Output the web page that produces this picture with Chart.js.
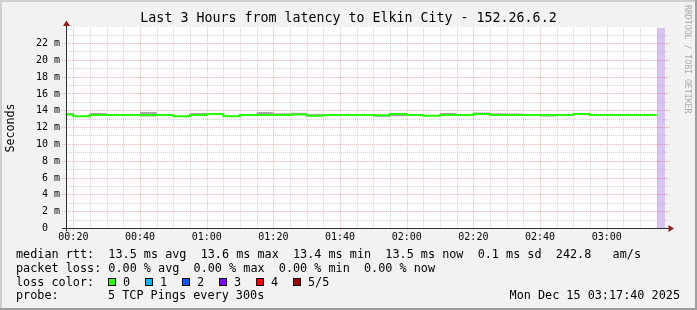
<!DOCTYPE html>
<html><head><meta charset="utf-8">
<script src="https://cdn.jsdelivr.net/npm/chart.js@4.4.1/dist/chart.umd.min.js"></script>
<style>
html,body{margin:0;padding:0;background:#f2f2f2;}
#wrap{position:relative;width:697px;height:310px;overflow:hidden;}
canvas{position:absolute;left:0;top:0;}
.t{position:absolute;font-family:'DejaVu Sans Mono',monospace;font-size:11.8px;line-height:13.7px;white-space:pre;color:#000;}
.box{position:absolute;width:6px;height:6px;border:1px solid #000;}
#mark{position:absolute;left:682.8px;top:5px;writing-mode:vertical-rl;font-family:'DejaVu Sans Mono',monospace;font-size:8.2px;line-height:10px;color:#aaaaaa;white-space:pre;}
</style></head>
<body>
<div id="wrap">
<canvas id="c" width="697" height="310"></canvas>
<div id="mark">RRDTOOL / TOBI OETIKER</div>
</div>
<script>
// ---------- data ----------
const times = ['00:15','00:20','00:25','00:30','00:35','00:40','00:45','00:50','00:55',
  '01:00','01:05','01:10','01:15','01:20','01:25','01:30','01:35','01:40','01:45','01:50','01:55',
  '02:00','02:05','02:10','02:15','02:20','02:25','02:30','02:35','02:40','02:45','02:50','02:55',
  '03:00','03:05','03:10'];
const segmentEnd = '03:15';
const medianMs = [13.55,13.35,13.5,13.5,13.5,13.5,13.5,13.35,13.5,
  13.6,13.35,13.5,13.5,13.5,13.55,13.4,13.5,13.5,13.5,13.45,13.6,
  13.5,13.4,13.5,13.5,13.6,13.5,13.5,13.5,13.5,13.5,13.6,13.5,
  13.5,13.5,13.5];
const smokeLowMs = [13.5,13.33,13.45,13.45,13.45,13.3,13.45,13.3,13.45,
  13.5,13.3,13.45,13.45,13.45,13.5,13.35,13.45,13.45,13.45,13.28,13.35,
  13.45,13.35,13.45,13.45,13.55,13.45,13.45,13.45,13.3,13.45,13.55,13.45,
  13.45,13.45,13.45];
const smokeHighMs = [13.72,13.4,13.72,13.55,13.55,13.85,13.55,13.4,13.72,
  13.65,13.4,13.6,13.85,13.7,13.75,13.6,13.55,13.55,13.55,13.5,13.65,
  13.55,13.45,13.72,13.55,13.8,13.7,13.68,13.55,13.5,13.55,13.65,13.55,
  13.55,13.55,13.55];
const unknownSpan = ['03:15','03:17:40'];
const rangeStart = '00:17:40';
const rangeEnd = '03:17:40';
const yMax = 23.9;
const yGridValues = [0,1,2,3,4,5,6,7,8,9,10,11,12,13,14,15,16,17,18,19,20,21,22,23];
const yLabelValues = [0,2,4,6,8,10,12,14,16,18,20,22];
const yTickLabels = ['0  ','2 m','4 m','6 m','8 m','10 m','12 m','14 m','16 m','18 m','20 m','22 m'];
const xGridTimes = ['00:20','00:25','00:30','00:35','00:40','00:45','00:50','00:55',
  '01:00','01:05','01:10','01:15','01:20','01:25','01:30','01:35','01:40','01:45','01:50','01:55',
  '02:00','02:05','02:10','02:15','02:20','02:25','02:30','02:35','02:40','02:45','02:50','02:55',
  '03:00','03:05','03:10','03:15'];
const xTickLabels = ['00:20','00:40','01:00','01:20','01:40','02:00','02:20','02:40','03:00'];
const titleText = 'Last 3 Hours from latency to Elkin City - 152.26.6.2';
const lossColors = ['#26ff00','#00b8ff','#0059ff','#7e00ff','#ff0000','#a10000'];
const lossLabels = ['0','1','2','3','4','5/5'];
const statsRtt = 'median rtt:  13.5 ms avg  13.6 ms max  13.4 ms min  13.5 ms now  0.1 ms sd  242.8   am/s';
const statsLoss = 'packet loss: 0.00 % avg  0.00 % max  0.00 % min  0.00 % now';
const probeText = '5 TCP Pings every 300s';
const stampText = 'Mon Dec 15 03:17:40 2025';

// ---------- helpers ----------
const FONT = "'DejaVu Sans Mono', monospace";
function toMin(s){ const p = s.split(':').map(Number); return p[0]*60 + p[1] + (p[2]||0)/60; }
const xLabelMinutes = xTickLabels.map(toMin);
function stepPoints(vals){
  const pts = times.map((t,i)=>({x: toMin(t), y: vals[i]}));
  pts.push({x: toMin(segmentEnd), y: vals[vals.length-1]});
  return pts;
}
const MAJOR = 'rgba(255,0,0,0.3)';
const MINOR = 'rgba(180,180,180,0.6)';

function drawGrid(chart){
  const {ctx, chartArea:a, scales:{x, y}} = chart;
  const L = Math.round(a.left), R = Math.round(a.right);
  ctx.save();
  ctx.lineWidth = 1;
  ctx.setLineDash([1,1]);
  y.ticks.forEach(t => {
    if (t.value === 0) return;
    const major = yLabelValues.includes(t.value);
    const py = Math.floor(y.getPixelForValue(t.value)) + 0.5;
    ctx.strokeStyle = major ? MAJOR : MINOR;
    ctx.beginPath(); ctx.moveTo(major ? L-4 : L+1, py); ctx.lineTo(R+3, py); ctx.stroke();
  });
  x.ticks.forEach(t => {
    const major = xLabelMinutes.includes(t.value);
    const px = Math.round(x.getPixelForValue(t.value)) + 0.5;
    ctx.strokeStyle = major ? MAJOR : MINOR;
    ctx.beginPath(); ctx.moveTo(px, a.top); ctx.lineTo(px, major ? a.bottom + 3 : a.bottom); ctx.stroke();
  });
  ctx.restore();
}

const rrdPlugin = {
  id: 'rrdChrome',
  beforeDraw(chart){
    const {ctx, chartArea:a, width, height} = chart;
    ctx.save();
    ctx.fillStyle = '#f2f2f2'; ctx.fillRect(0,0,width,height);
    ctx.fillStyle = '#cfcfcf'; ctx.fillRect(0,0,width,2); ctx.fillRect(0,0,2,height);
    ctx.fillStyle = '#9e9e9e'; ctx.fillRect(0,height-2,width,2); ctx.fillRect(width-2,0,2,height);
    ctx.fillStyle = '#ffffff';
    ctx.fillRect(Math.round(a.left), Math.floor(a.top), Math.round(a.right)-Math.round(a.left), Math.floor(a.bottom)-Math.floor(a.top));
    ctx.restore();
  },
  afterDatasetDraw(chart, args){
    if (chart.data.datasets[args.index].label === 'unknown') drawGrid(chart);
  },
  afterDatasetsDraw(chart){
    const {ctx, chartArea:a, scales:{y}} = chart;
    const L = Math.round(a.left), R = Math.round(a.right);
    const ax = L + 0.5;
    const ay = Math.floor(y.getPixelForValue(0)) + 0.5;
    ctx.save();
    ctx.setLineDash([]);
    ctx.lineWidth = 1;
    ctx.strokeStyle = '#303030';
    ctx.beginPath(); ctx.moveTo(ax, ay + 3); ctx.lineTo(ax, a.top - 2); ctx.stroke();
    ctx.beginPath(); ctx.moveTo(L - 4, ay); ctx.lineTo(R + 3, ay); ctx.stroke();
    ctx.fillStyle = '#9b1c1c';
    ctx.beginPath(); ctx.moveTo(ax, a.top - 7); ctx.lineTo(ax - 3.5, a.top - 1.5); ctx.lineTo(ax + 3.5, a.top - 1.5); ctx.closePath(); ctx.fill();
    ctx.beginPath(); ctx.moveTo(R + 8, ay); ctx.lineTo(R + 2.5, ay - 3.5); ctx.lineTo(R + 2.5, ay + 3.5); ctx.closePath(); ctx.fill();
    ctx.restore();
  }
};

const clear = 'rgba(0,0,0,0)';
new Chart(document.getElementById('c'), {
  type: 'line',
  data: {
    datasets: [
      { label: 'unknown', order: 10, data: unknownSpan.map(t => ({x: toMin(t), y: yMax})),
        fill: 'origin', backgroundColor: '#d7c2f5', borderColor: clear, borderWidth: 0, pointRadius: 0 },
      { label: 'smokeHigh', order: 5, data: stepPoints(smokeHighMs), stepped: true,
        fill: '+1', backgroundColor: '#a8a8a8', borderColor: clear, borderWidth: 0, pointRadius: 0, clip: 0 },
      { label: 'smokeLow', order: 4, data: stepPoints(smokeLowMs), stepped: true,
        fill: false, borderColor: clear, borderWidth: 0, pointRadius: 0, clip: 0 },
      { label: 'median', order: 1, data: stepPoints(medianMs), stepped: true,
        fill: false, borderColor: '#26ff00', borderWidth: 2, pointRadius: 0, clip: 0 }
    ]
  },
  options: {
    responsive: false, animation: false, devicePixelRatio: 1,
    layout: { padding: 0 },
    plugins: {
      legend: { display: false },
      tooltip: { enabled: false },
      title: { display: true, text: titleText, color: '#000',
        font: { family: FONT, size: 13.3, weight: 'normal' }, padding: { top: 11, bottom: 0.5 } }
    },
    scales: {
      x: {
        type: 'linear', min: toMin(rangeStart), max: toMin(rangeEnd),
        afterBuildTicks: s => { s.ticks = xGridTimes.map(t => ({value: toMin(t)})); },
        afterFit: s => { s.height = 81.5; },
        grid: { display: false, drawTicks: false }, border: { display: false },
        ticks: { autoSkip: false, maxRotation: 0, minRotation: 0, padding: 3, color: '#000',
          font: { family: FONT, size: 10 },
          callback: v => { const i = xLabelMinutes.indexOf(v); return i >= 0 ? xTickLabels[i] : ''; } }
      },
      y: {
        type: 'linear', position: 'left', min: 0, max: yMax,
        afterBuildTicks: s => { s.ticks = yGridValues.map(v => ({value: v})); },
        afterFit: s => { s.width = 65.6; },
        grid: { display: false, drawTicks: false }, border: { display: false },
        ticks: { autoSkip: false, padding: 5.6, color: '#000', font: { family: FONT, size: 10 },
          callback: v => { const i = yLabelValues.indexOf(v); return i >= 0 ? yTickLabels[i] : ''; } },
        title: { display: true, text: 'Seconds', color: '#000', font: { family: FONT, size: 11.7 },
          padding: { top: 3.5, bottom: 0 } }
      },
      yRight: {
        type: 'linear', position: 'right', min: 0, max: yMax, display: true,
        afterFit: s => { s.width = 31.4; },
        grid: { display: false, drawTicks: false }, border: { display: false },
        ticks: { display: false }
      }
    }
  },
  plugins: [rrdPlugin]
});

// ---------- legend block (text) ----------
const wrap = document.getElementById('wrap');
function addText(txt, left, top, right){
  const d = document.createElement('div');
  d.className = 't'; d.textContent = txt; d.style.top = top + 'px';
  if (right !== undefined) d.style.right = right + 'px'; else d.style.left = left + 'px';
  wrap.appendChild(d);
}
addText(statsRtt, 16, 247.9);
addText(statsLoss, 16, 261.6);
addText('loss color:', 16, 275.5);
lossColors.forEach((c, k) => {
  const b = document.createElement('div');
  b.className = 'box'; b.style.left = (108 + 37*k) + 'px'; b.style.top = '278px'; b.style.background = c;
  wrap.appendChild(b);
  addText(lossLabels[k], 123 + 37*k, 275.5);
});
addText('probe:', 16, 289.4);
addText(probeText, 108, 289.4);
addText(stampText, 0, 289.4, 17);
</script>
</body></html>
